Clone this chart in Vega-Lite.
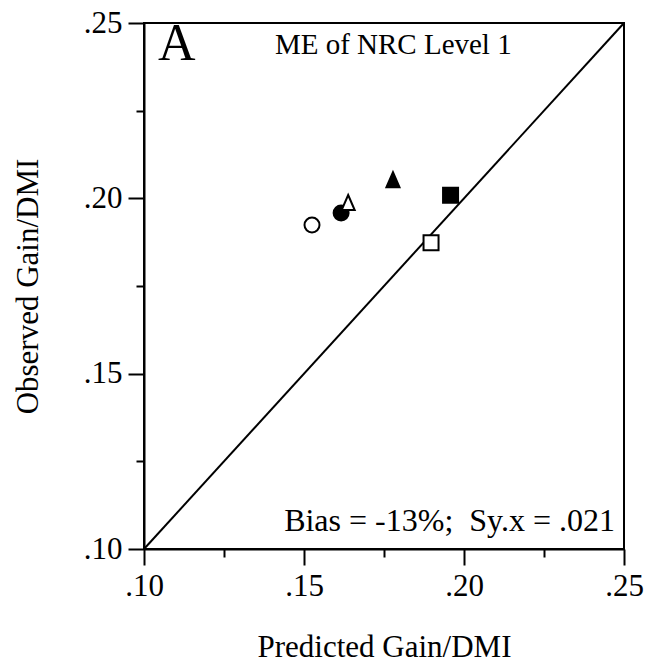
{
  "$schema": "https://vega.github.io/schema/vega-lite/v6.json",
  "width": 480,
  "height": 526,
  "autosize": {"type": "none"},
  "padding": {"left": 144, "top": 23, "right": 33, "bottom": 114},
  "background": "white",
  "config": {
    "view": {"stroke": "black", "strokeWidth": 2},
    "font": "Liberation Serif",
    "axis": {
      "grid": false,
      "domainColor": "black",
      "domainWidth": 2,
      "tickColor": "black",
      "tickWidth": 2,
      "labelFont": "Liberation Serif",
      "labelFontSize": 31,
      "labelColor": "black",
      "titleFont": "Liberation Serif",
      "titleFontSize": 31,
      "titleFontWeight": "normal",
      "titleColor": "black"
    }
  },
  "datasets": {
    "diag": [{"px": 0.10, "oy": 0.10}, {"px": 0.25, "oy": 0.25}],
    "pts": [
      {"px": 0.1525, "oy": 0.1924, "marker": "open circle", "fillType": "open"},
      {"px": 0.1616, "oy": 0.1958, "marker": "filled circle", "fillType": "filled"},
      {"px": 0.1638, "oy": 0.1987, "marker": "open triangle", "fillType": "open"},
      {"px": 0.1778, "oy": 0.2052, "marker": "filled triangle", "fillType": "filled"},
      {"px": 0.1958, "oy": 0.2009, "marker": "filled square", "fillType": "filled"},
      {"px": 0.1897, "oy": 0.1873, "marker": "open square", "fillType": "open"}
    ],
    "notes": [
      {"px": 0.1044, "oy": 0.2394, "label": "A", "kind": "letter"},
      {"px": 0.1409, "oy": 0.2413, "label": "ME of NRC Level 1", "kind": "title"},
      {"px": 0.2472, "oy": 0.1051, "label": "Bias = -13%;\u00a0 Sy.x = .021", "kind": "stats"}
    ]
  },
  "encoding": {
    "x": {
      "field": "px", "type": "quantitative",
      "scale": {"domain": [0.1, 0.25], "nice": false, "zero": false},
      "axis": {
        "values": [0.1, 0.125, 0.15, 0.175, 0.2, 0.225, 0.25],
        "labelExpr": "round(datum.value*40)%2==1 ? '' : replace(format(datum.value,'.2f'),'0.','.')",
        "tickSize": {"condition": {"test": "round(datum.value*40)%2==1", "value": 8}, "value": 16},
        "labelPadding": 6,
        "labelFlush": false,
        "labelOverlap": false,
        "title": "Predicted Gain/DMI",
        "titleY": 98,
        "titleBaseline": "middle"
      }
    },
    "y": {
      "field": "oy", "type": "quantitative",
      "scale": {"domain": [0.1, 0.25], "nice": false, "zero": false},
      "axis": {
        "values": [0.1, 0.125, 0.15, 0.175, 0.2, 0.225, 0.25],
        "labelExpr": "round(datum.value*40)%2==1 ? '' : replace(format(datum.value,'.2f'),'0.','.')",
        "tickSize": {"condition": {"test": "round(datum.value*40)%2==1", "value": 8}, "value": 16},
        "labelPadding": 6,
        "labelFlush": false,
        "labelOverlap": false,
        "title": "Observed Gain/DMI",
        "titleX": -116,
        "titleY": 263,
        "titleBaseline": "middle"
      }
    }
  },
  "layer": [
    {
      "data": {"name": "diag"},
      "mark": {"type": "line", "color": "black", "strokeWidth": 2},
      "encoding": {}
    },
    {
      "data": {"name": "pts"},
      "mark": {"type": "point", "filled": false, "stroke": "black", "strokeWidth": 2, "size": 225, "opacity": 1},
      "encoding": {
        "shape": {
          "field": "marker", "type": "nominal", "legend": null,
          "scale": {
            "domain": ["open circle", "filled circle", "open triangle", "filled triangle", "open square", "filled square"],
            "range": ["circle", "circle", "M0,-1.05L0.87,0.95L-0.87,0.95Z", "M0,-1.05L0.87,0.95L-0.87,0.95Z", "square", "square"]
          }
        },
        "fill": {
          "field": "fillType", "type": "nominal", "legend": null,
          "scale": {"domain": ["open", "filled"], "range": ["white", "black"]}
        },
        "order": {"value": 0}
      }
    },
    {
      "data": {"name": "notes"},
      "transform": [{"filter": "datum.kind == 'letter'"}],
      "mark": {"type": "text", "align": "left", "baseline": "alphabetic", "fontSize": 52, "font": "Liberation Serif", "color": "black"},
      "encoding": {"text": {"field": "label"}}
    },
    {
      "data": {"name": "notes"},
      "transform": [{"filter": "datum.kind == 'title'"}],
      "mark": {"type": "text", "align": "left", "baseline": "alphabetic", "fontSize": 29, "font": "Liberation Serif", "color": "black"},
      "encoding": {"text": {"field": "label"}}
    },
    {
      "data": {"name": "notes"},
      "transform": [{"filter": "datum.kind == 'stats'"}],
      "mark": {"type": "text", "align": "right", "baseline": "alphabetic", "fontSize": 32, "font": "Liberation Serif", "color": "black"},
      "encoding": {"text": {"field": "label"}}
    }
  ]
}
